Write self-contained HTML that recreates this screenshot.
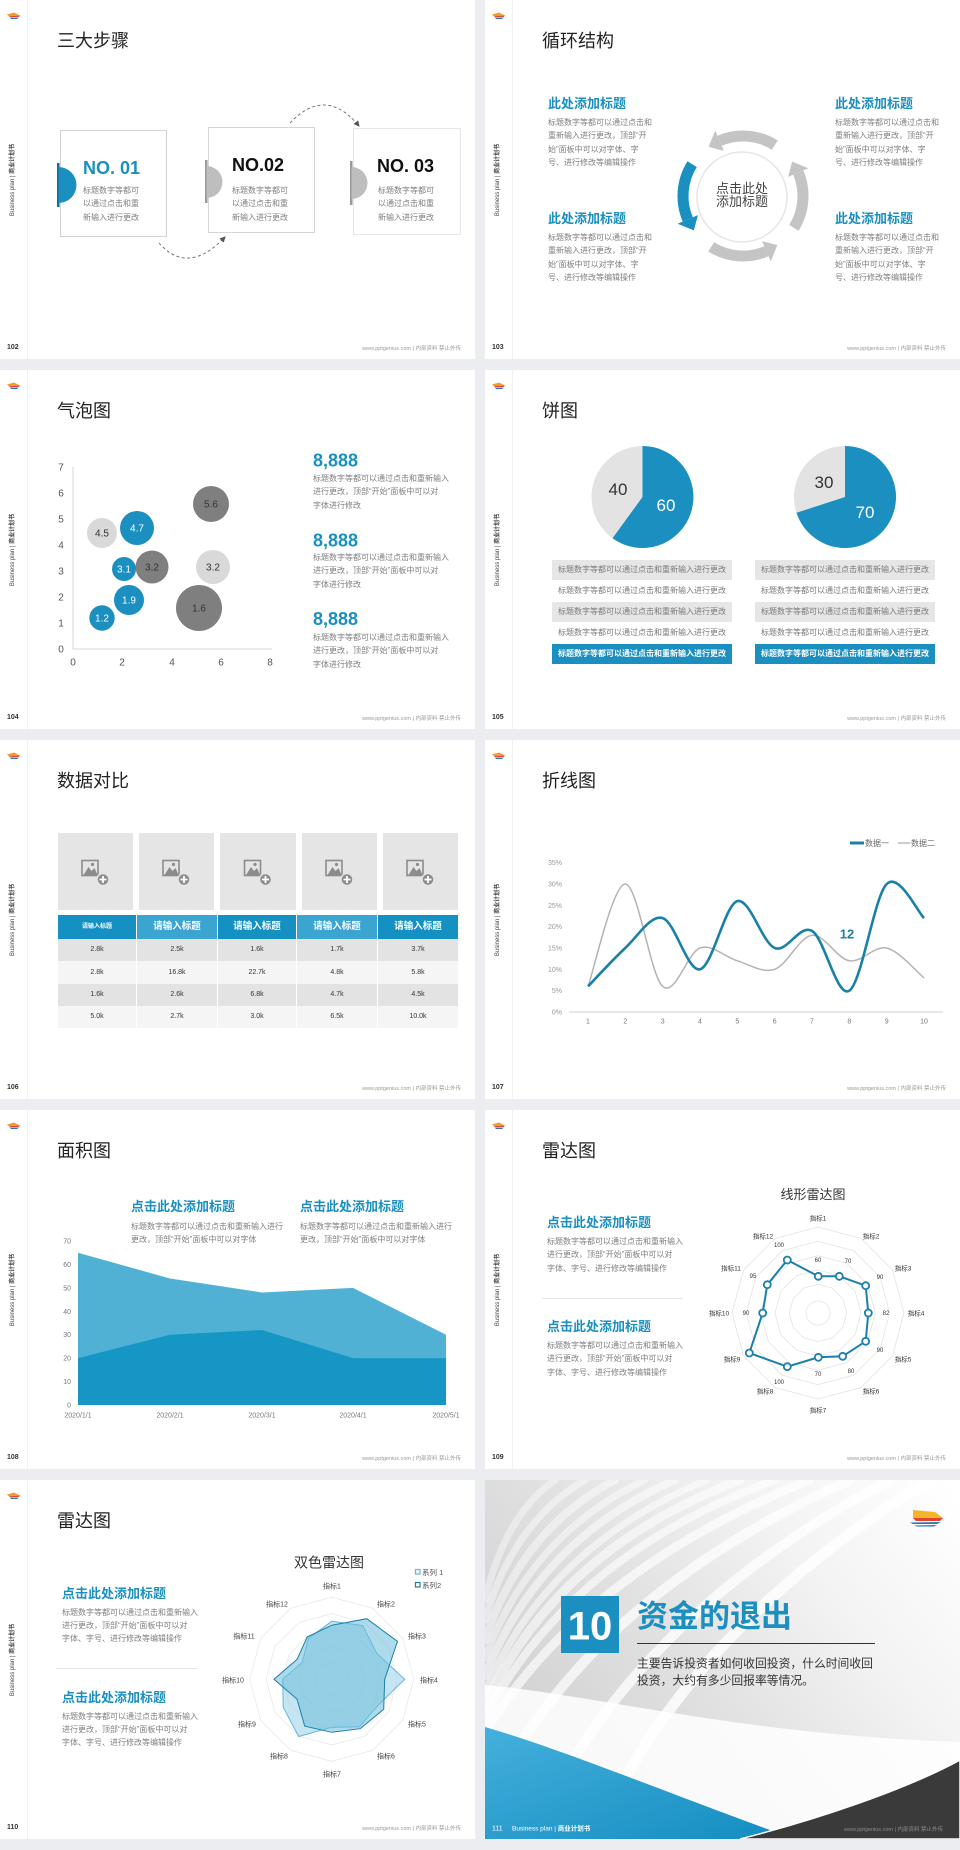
<!DOCTYPE html>
<html lang="zh"><head><meta charset="utf-8"><title>slides</title>
<style>
*{margin:0;padding:0;box-sizing:border-box}
html,body{width:960px;height:1850px}
body{background:#ebedf0;position:relative;overflow:hidden;font-family:"Liberation Sans","Noto Sans CJK SC",sans-serif;color:#333}
.s{position:absolute;width:475px;height:359px;background:#fff;overflow:hidden}
.sb{position:absolute;left:27px;top:0;width:1px;height:359px;background:#f0f0f0}
.t{position:absolute;white-space:nowrap}
.ti{position:absolute;left:57px;top:31.5px;font-size:18px;line-height:18px;color:#222;white-space:nowrap}
.sd{position:absolute;left:-32px;top:176px;width:90px;height:8px;font-size:6px;line-height:8px;text-align:center;transform:rotate(-90deg);color:#444;white-space:nowrap}
.pn{position:absolute;left:7px;top:344px;font-size:7px;line-height:8px;font-weight:bold;color:#333}
.ft{position:absolute;left:300px;top:345.5px;width:161px;text-align:right;font-size:5.5px;line-height:7px;color:#9a9a9a;white-space:nowrap}
.lg{position:absolute;left:7px;top:12px}
.b8{font-size:8px;color:#7f7f7f}
.h13{font-size:13px;line-height:14px;font-weight:bold;color:#1a8fc0}
.row{position:absolute;width:180px;height:20px;font-size:8px;line-height:20px;text-align:center;color:#7a7a7a;white-space:nowrap}
.hc{position:absolute;top:915px;height:24px;line-height:24px;text-align:center;color:#fff;font-weight:bold;font-size:9.5px;white-space:nowrap}
.dc{position:absolute;text-align:center;font-size:7px;color:#333;white-space:nowrap}
#main{position:absolute;left:0;top:0}
</style></head><body>

<!-- slide 102 -->
<div class="s" style="left:0;top:0"><div class="sb"></div>
<svg class="lg" width="14" height="8" viewBox="0 0 14 8"><path d="M0,2.5 L7,0.5 L13,3.5 L2,4.2Z" fill="#f39a2c"/><path d="M2,4.2 L13,3.5 L11.5,5 L3,5.2Z" fill="#e0452f"/><path d="M3,5.8 L12,5.6 L10,7 L4,7Z" fill="#2b76b9"/></svg>
<div class="ti">三大步骤</div><div class="sd">Business plan | <b>商业计划书</b></div><div class="pn">102</div><div class="ft">www.pptgenius.com | 内部资料 禁止外传</div></div>

<!-- slide 103 -->
<div class="s" style="left:485px;top:0"><div class="sb"></div>
<svg class="lg" width="14" height="8" viewBox="0 0 14 8"><path d="M0,2.5 L7,0.5 L13,3.5 L2,4.2Z" fill="#f39a2c"/><path d="M2,4.2 L13,3.5 L11.5,5 L3,5.2Z" fill="#e0452f"/><path d="M3,5.8 L12,5.6 L10,7 L4,7Z" fill="#2b76b9"/></svg>
<div class="ti">循环结构</div><div class="sd">Business plan | <b>商业计划书</b></div><div class="pn">103</div><div class="ft">www.pptgenius.com | 内部资料 禁止外传</div></div>

<!-- slide 104 -->
<div class="s" style="left:0;top:370px"><div class="sb"></div>
<svg class="lg" width="14" height="8" viewBox="0 0 14 8"><path d="M0,2.5 L7,0.5 L13,3.5 L2,4.2Z" fill="#f39a2c"/><path d="M2,4.2 L13,3.5 L11.5,5 L3,5.2Z" fill="#e0452f"/><path d="M3,5.8 L12,5.6 L10,7 L4,7Z" fill="#2b76b9"/></svg>
<div class="ti">气泡图</div><div class="sd">Business plan | <b>商业计划书</b></div><div class="pn">104</div><div class="ft">www.pptgenius.com | 内部资料 禁止外传</div></div>

<!-- slide 105 -->
<div class="s" style="left:485px;top:370px"><div class="sb"></div>
<svg class="lg" width="14" height="8" viewBox="0 0 14 8"><path d="M0,2.5 L7,0.5 L13,3.5 L2,4.2Z" fill="#f39a2c"/><path d="M2,4.2 L13,3.5 L11.5,5 L3,5.2Z" fill="#e0452f"/><path d="M3,5.8 L12,5.6 L10,7 L4,7Z" fill="#2b76b9"/></svg>
<div class="ti">饼图</div><div class="sd">Business plan | <b>商业计划书</b></div><div class="pn">105</div><div class="ft">www.pptgenius.com | 内部资料 禁止外传</div></div>

<!-- slide 106 -->
<div class="s" style="left:0;top:740px"><div class="sb"></div>
<svg class="lg" width="14" height="8" viewBox="0 0 14 8"><path d="M0,2.5 L7,0.5 L13,3.5 L2,4.2Z" fill="#f39a2c"/><path d="M2,4.2 L13,3.5 L11.5,5 L3,5.2Z" fill="#e0452f"/><path d="M3,5.8 L12,5.6 L10,7 L4,7Z" fill="#2b76b9"/></svg>
<div class="ti">数据对比</div><div class="sd">Business plan | <b>商业计划书</b></div><div class="pn">106</div><div class="ft">www.pptgenius.com | 内部资料 禁止外传</div></div>

<!-- slide 107 -->
<div class="s" style="left:485px;top:740px"><div class="sb"></div>
<svg class="lg" width="14" height="8" viewBox="0 0 14 8"><path d="M0,2.5 L7,0.5 L13,3.5 L2,4.2Z" fill="#f39a2c"/><path d="M2,4.2 L13,3.5 L11.5,5 L3,5.2Z" fill="#e0452f"/><path d="M3,5.8 L12,5.6 L10,7 L4,7Z" fill="#2b76b9"/></svg>
<div class="ti">折线图</div><div class="sd">Business plan | <b>商业计划书</b></div><div class="pn">107</div><div class="ft">www.pptgenius.com | 内部资料 禁止外传</div></div>

<!-- slide 108 -->
<div class="s" style="left:0;top:1110px"><div class="sb"></div>
<svg class="lg" width="14" height="8" viewBox="0 0 14 8"><path d="M0,2.5 L7,0.5 L13,3.5 L2,4.2Z" fill="#f39a2c"/><path d="M2,4.2 L13,3.5 L11.5,5 L3,5.2Z" fill="#e0452f"/><path d="M3,5.8 L12,5.6 L10,7 L4,7Z" fill="#2b76b9"/></svg>
<div class="ti">面积图</div><div class="sd">Business plan | <b>商业计划书</b></div><div class="pn">108</div><div class="ft">www.pptgenius.com | 内部资料 禁止外传</div></div>

<!-- slide 109 -->
<div class="s" style="left:485px;top:1110px"><div class="sb"></div>
<svg class="lg" width="14" height="8" viewBox="0 0 14 8"><path d="M0,2.5 L7,0.5 L13,3.5 L2,4.2Z" fill="#f39a2c"/><path d="M2,4.2 L13,3.5 L11.5,5 L3,5.2Z" fill="#e0452f"/><path d="M3,5.8 L12,5.6 L10,7 L4,7Z" fill="#2b76b9"/></svg>
<div class="ti">雷达图</div><div class="sd">Business plan | <b>商业计划书</b></div><div class="pn">109</div><div class="ft">www.pptgenius.com | 内部资料 禁止外传</div></div>

<!-- slide 110 -->
<div class="s" style="left:0;top:1480px"><div class="sb"></div>
<svg class="lg" width="14" height="8" viewBox="0 0 14 8"><path d="M0,2.5 L7,0.5 L13,3.5 L2,4.2Z" fill="#f39a2c"/><path d="M2,4.2 L13,3.5 L11.5,5 L3,5.2Z" fill="#e0452f"/><path d="M3,5.8 L12,5.6 L10,7 L4,7Z" fill="#2b76b9"/></svg>
<div class="ti">雷达图</div><div class="sd">Business plan | <b>商业计划书</b></div><div class="pn">110</div><div class="ft">www.pptgenius.com | 内部资料 禁止外传</div></div>

<!-- slide 111 base -->
<div class="s" style="left:485px;top:1480px"></div>

<!-- slide 106 table (HTML) -->
<div class="t" style="left:58px;top:833px;width:75px;height:77px;background:#e5e5e5"></div>
<div class="t" style="left:139px;top:833px;width:75px;height:77px;background:#e5e5e5"></div>
<div class="t" style="left:220px;top:833px;width:76px;height:77px;background:#e5e5e5"></div>
<div class="t" style="left:302px;top:833px;width:75px;height:77px;background:#e5e5e5"></div>
<div class="t" style="left:383px;top:833px;width:75px;height:77px;background:#e5e5e5"></div>

<div class="hc" style="left:58px;width:78px;background:#1590c3;font-size:6px">请输入标题</div>
<div class="hc" style="left:137px;width:80px;background:#3ba5d2">请输入标题</div>
<div class="hc" style="left:218px;width:78px;background:#1590c3">请输入标题</div>
<div class="hc" style="left:297px;width:80px;background:#3ba5d2">请输入标题</div>
<div class="hc" style="left:378px;width:80px;background:#1590c3">请输入标题</div>

<div class="dc" style="left:58px;top:939px;width:78px;height:22px;line-height:22px;background:#e3e3e3">2.8k</div>
<div class="dc" style="left:137px;top:939px;width:80px;height:22px;line-height:22px;background:#e3e3e3">2.5k</div>
<div class="dc" style="left:218px;top:939px;width:78px;height:22px;line-height:22px;background:#e3e3e3">1.6k</div>
<div class="dc" style="left:297px;top:939px;width:80px;height:22px;line-height:22px;background:#e3e3e3">1.7k</div>
<div class="dc" style="left:378px;top:939px;width:80px;height:22px;line-height:22px;background:#e3e3e3">3.7k</div>

<div class="dc" style="left:58px;top:961px;width:78px;height:23px;line-height:23px;background:#f5f5f5">2.8k</div>
<div class="dc" style="left:137px;top:961px;width:80px;height:23px;line-height:23px;background:#f5f5f5">16.8k</div>
<div class="dc" style="left:218px;top:961px;width:78px;height:23px;line-height:23px;background:#f5f5f5">22.7k</div>
<div class="dc" style="left:297px;top:961px;width:80px;height:23px;line-height:23px;background:#f5f5f5">4.8k</div>
<div class="dc" style="left:378px;top:961px;width:80px;height:23px;line-height:23px;background:#f5f5f5">5.8k</div>

<div class="dc" style="left:58px;top:984px;width:78px;height:22px;line-height:22px;background:#e3e3e3">1.6k</div>
<div class="dc" style="left:137px;top:984px;width:80px;height:22px;line-height:22px;background:#e3e3e3">2.6k</div>
<div class="dc" style="left:218px;top:984px;width:78px;height:22px;line-height:22px;background:#e3e3e3">6.8k</div>
<div class="dc" style="left:297px;top:984px;width:80px;height:22px;line-height:22px;background:#e3e3e3">4.7k</div>
<div class="dc" style="left:378px;top:984px;width:80px;height:22px;line-height:22px;background:#e3e3e3">4.5k</div>

<div class="dc" style="left:58px;top:1006px;width:78px;height:22px;line-height:22px;background:#f5f5f5">5.0k</div>
<div class="dc" style="left:137px;top:1006px;width:80px;height:22px;line-height:22px;background:#f5f5f5">2.7k</div>
<div class="dc" style="left:218px;top:1006px;width:78px;height:22px;line-height:22px;background:#f5f5f5">3.0k</div>
<div class="dc" style="left:297px;top:1006px;width:80px;height:22px;line-height:22px;background:#f5f5f5">6.5k</div>
<div class="dc" style="left:378px;top:1006px;width:80px;height:22px;line-height:22px;background:#f5f5f5">10.0k</div>

<!-- slide 105 rows -->
<div class="row" style="left:552px;top:560px;background:#e6e6e6">标题数字等都可以通过点击和重新输入进行更改</div>
<div class="row" style="left:552px;top:581px">标题数字等都可以通过点击和重新输入进行更改</div>
<div class="row" style="left:552px;top:602px;background:#e6e6e6">标题数字等都可以通过点击和重新输入进行更改</div>
<div class="row" style="left:552px;top:623px">标题数字等都可以通过点击和重新输入进行更改</div>
<div class="row" style="left:552px;top:644px;background:#1a8fc0;color:#fff;font-weight:bold">标题数字等都可以通过点击和重新输入进行更改</div>
<div class="row" style="left:755px;top:560px;background:#e6e6e6">标题数字等都可以通过点击和重新输入进行更改</div>
<div class="row" style="left:755px;top:581px">标题数字等都可以通过点击和重新输入进行更改</div>
<div class="row" style="left:755px;top:602px;background:#e6e6e6">标题数字等都可以通过点击和重新输入进行更改</div>
<div class="row" style="left:755px;top:623px">标题数字等都可以通过点击和重新输入进行更改</div>
<div class="row" style="left:755px;top:644px;background:#1a8fc0;color:#fff;font-weight:bold">标题数字等都可以通过点击和重新输入进行更改</div>

<svg id="main" width="960" height="1850" viewBox="0 0 960 1850" xmlns="http://www.w3.org/2000/svg" font-family="Liberation Sans, Noto Sans CJK SC, sans-serif">
<defs>
<marker id="ah" markerWidth="6" markerHeight="6" refX="5" refY="3" orient="auto" markerUnits="userSpaceOnUse"><path d="M0,0 L6,3 L0,6Z" fill="#555"/></marker>
<linearGradient id="bg10" x1="0" y1="0.65" x2="1" y2="0.05"><stop offset="0" stop-color="#d0d0d0"/><stop offset="0.35" stop-color="#e0e0e0"/><stop offset="0.68" stop-color="#f3f3f3"/><stop offset="1" stop-color="#ffffff"/></linearGradient>
<linearGradient id="bl10" x1="0" y1="0" x2="1" y2="1"><stop offset="0" stop-color="#45b0dc"/><stop offset="1" stop-color="#138cc0"/></linearGradient>
</defs>

<!-- ===== slide 102 ===== -->
<rect x="60.5" y="130.5" width="106" height="106" fill="#fff" stroke="#d2d2d2"/>
<rect x="208.5" y="127.5" width="106" height="105" fill="#fff" stroke="#d6d6d6"/>
<rect x="353.5" y="128.5" width="107" height="106" fill="#fff" stroke="#e6e6e6"/>
<rect x="57" y="163" width="2.5" height="44" fill="#0e6f96"/>
<path d="M58.5,167 A18,18 0 0 1 58.5,203 Z" fill="#1a8fc0"/>
<rect x="205" y="160" width="2.5" height="43" fill="#9a9a9a"/>
<path d="M206.5,166 A16,16 0 0 1 206.5,198 Z" fill="#bebebe"/>
<rect x="350" y="161" width="2.5" height="44" fill="#9a9a9a"/>
<path d="M351.5,167 A16,16 0 0 1 351.5,199Z" fill="#bebebe"/>
<text x="83" y="173.9" font-size="18" font-weight="bold" fill="#1a8fc0">NO. 01</text>
<text x="232" y="170.9" font-size="18" font-weight="bold" fill="#111">NO.02</text>
<text x="377" y="171.9" font-size="18" font-weight="bold" fill="#111">NO. 03</text>
<path d="M159,243 Q188,276 225,237" fill="none" stroke="#666" stroke-width="0.9" stroke-dasharray="3,2.5" marker-end="url(#ah)"/>
<path d="M290,123 Q325.5,85.5 359,126" fill="none" stroke="#666" stroke-width="0.9" stroke-dasharray="3,2.5" marker-end="url(#ah)"/>

<!-- ===== slide 103 ===== -->
<circle cx="742" cy="197" r="45" fill="#fff" stroke="#e6e6e6" stroke-width="1.5"/>
<g transform="translate(743,196) rotate(-58)"><path d="M60,0 A60,60 0 0 0 34.41,-49.15" fill="none" stroke="#c4c4c4" stroke-width="11"/><polygon points="28.11,-40.14 40.73,-58.16 23.44,-55.23" fill="#c4c4c4"/></g>
<g transform="translate(743,196) rotate(-148)"><path d="M60,0 A60,60 0 0 0 34.41,-49.15" fill="none" stroke="#1a8fc0" stroke-width="11"/><polygon points="28.11,-40.14 40.73,-58.16 23.44,-55.23" fill="#1a8fc0"/></g>
<g transform="translate(743,196) rotate(-238)"><path d="M60,0 A60,60 0 0 0 34.41,-49.15" fill="none" stroke="#c4c4c4" stroke-width="11"/><polygon points="28.11,-40.14 40.73,-58.16 23.44,-55.23" fill="#c4c4c4"/></g>
<g transform="translate(743,196) rotate(32)"><path d="M60,0 A60,60 0 0 0 34.41,-49.15" fill="none" stroke="#c4c4c4" stroke-width="11"/><polygon points="28.11,-40.14 40.73,-58.16 23.44,-55.23" fill="#c4c4c4"/></g>

<!-- ===== slide 104 bubble ===== -->
<line x1="73" y1="467" x2="73" y2="649" stroke="#c8d4dc"/>
<line x1="73" y1="649" x2="272" y2="649" stroke="#c8d4dc"/>
<g font-size="10" fill="#555" text-anchor="middle">
<text x="61" y="652.6">0</text><text x="61" y="626.6">1</text><text x="61" y="600.6">2</text><text x="61" y="574.6">3</text><text x="61" y="548.6">4</text><text x="61" y="522.6">5</text><text x="61" y="496.6">6</text><text x="61" y="470.6">7</text>
<text x="73" y="665.6">0</text><text x="122" y="665.6">2</text><text x="172" y="665.6">4</text><text x="221" y="665.6">6</text><text x="270" y="665.6">8</text>
</g>
<circle cx="102" cy="533" r="15" fill="#d9d9d9"/>
<circle cx="137" cy="528" r="17" fill="#1a8fc0"/>
<circle cx="211" cy="504" r="18" fill="#7f7f7f"/>
<circle cx="152" cy="567" r="16.5" fill="#7f7f7f"/>
<circle cx="124" cy="569" r="12" fill="#1a8fc0"/>
<circle cx="213" cy="567" r="17" fill="#d9d9d9"/>
<circle cx="129" cy="600" r="15" fill="#1a8fc0"/>
<circle cx="199" cy="608" r="23" fill="#7f7f7f"/>
<circle cx="102" cy="618" r="12.7" fill="#1a8fc0"/>
<g font-size="10" text-anchor="middle">
<text x="102" y="536.6" fill="#333">4.5</text>
<text x="137" y="531.6" fill="#fff">4.7</text>
<text x="211" y="507.6" fill="#333">5.6</text>
<text x="152" y="570.6" fill="#333">3.2</text>
<text x="124" y="572.6" fill="#fff">3.1</text>
<text x="213" y="570.6" fill="#333">3.2</text>
<text x="129" y="603.6" fill="#fff">1.9</text>
<text x="199" y="611.6" fill="#333">1.6</text>
<text x="102" y="621.6" fill="#fff">1.2</text>
</g>
<g font-size="18" font-weight="bold" fill="#1a8fc0">
<text x="313" y="466.4">8,888</text>
<text x="313" y="546.4">8,888</text>
<text x="313" y="624.9">8,888</text>
</g>

<!-- ===== slide 105 pies ===== -->
<circle cx="642.5" cy="497" r="51" fill="#e3e3e3"/>
<path d="M642.5,497 L642.5,446 A51,51 0 1 1 612.5,538.3 Z" fill="#1a8fc0"/>
<circle cx="845" cy="497" r="51" fill="#e3e3e3"/>
<path d="M845,497 L845,446 A51,51 0 1 1 796.5,512.8 Z" fill="#1a8fc0"/>
<g font-size="17" text-anchor="middle">
<text x="618" y="495.1" fill="#333">40</text>
<text x="666" y="511.1" fill="#fff">60</text>
<text x="824" y="488.1" fill="#333">30</text>
<text x="865" y="518.1" fill="#fff">70</text>
</g>

<!-- ===== slide 106 icons ===== -->
<g transform="translate(95.5,0)"><rect x="-13.5" y="860.5" width="16" height="15" fill="none" stroke="#8c8c8c" stroke-width="1.6"/><path d="M-12,875 L-7,867 L-4,871 L-1,868 L2,875 Z" fill="#8c8c8c"/><circle cx="-3" cy="864.5" r="1.6" fill="#8c8c8c"/><circle cx="7.5" cy="879.5" r="6" fill="#8c8c8c" stroke="#e5e5e5" stroke-width="1.5"/><path d="M7.5,876 V883 M4,879.5 H11" stroke="#fff" stroke-width="1.8"/></g>
<g transform="translate(176.5,0)"><rect x="-13.5" y="860.5" width="16" height="15" fill="none" stroke="#8c8c8c" stroke-width="1.6"/><path d="M-12,875 L-7,867 L-4,871 L-1,868 L2,875 Z" fill="#8c8c8c"/><circle cx="-3" cy="864.5" r="1.6" fill="#8c8c8c"/><circle cx="7.5" cy="879.5" r="6" fill="#8c8c8c" stroke="#e5e5e5" stroke-width="1.5"/><path d="M7.5,876 V883 M4,879.5 H11" stroke="#fff" stroke-width="1.8"/></g>
<g transform="translate(258,0)"><rect x="-13.5" y="860.5" width="16" height="15" fill="none" stroke="#8c8c8c" stroke-width="1.6"/><path d="M-12,875 L-7,867 L-4,871 L-1,868 L2,875 Z" fill="#8c8c8c"/><circle cx="-3" cy="864.5" r="1.6" fill="#8c8c8c"/><circle cx="7.5" cy="879.5" r="6" fill="#8c8c8c" stroke="#e5e5e5" stroke-width="1.5"/><path d="M7.5,876 V883 M4,879.5 H11" stroke="#fff" stroke-width="1.8"/></g>
<g transform="translate(339.5,0)"><rect x="-13.5" y="860.5" width="16" height="15" fill="none" stroke="#8c8c8c" stroke-width="1.6"/><path d="M-12,875 L-7,867 L-4,871 L-1,868 L2,875 Z" fill="#8c8c8c"/><circle cx="-3" cy="864.5" r="1.6" fill="#8c8c8c"/><circle cx="7.5" cy="879.5" r="6" fill="#8c8c8c" stroke="#e5e5e5" stroke-width="1.5"/><path d="M7.5,876 V883 M4,879.5 H11" stroke="#fff" stroke-width="1.8"/></g>
<g transform="translate(420.5,0)"><rect x="-13.5" y="860.5" width="16" height="15" fill="none" stroke="#8c8c8c" stroke-width="1.6"/><path d="M-12,875 L-7,867 L-4,871 L-1,868 L2,875 Z" fill="#8c8c8c"/><circle cx="-3" cy="864.5" r="1.6" fill="#8c8c8c"/><circle cx="7.5" cy="879.5" r="6" fill="#8c8c8c" stroke="#e5e5e5" stroke-width="1.5"/><path d="M7.5,876 V883 M4,879.5 H11" stroke="#fff" stroke-width="1.8"/></g>

<!-- ===== slide 107 line chart ===== -->
<g font-size="7" fill="#999" text-anchor="end">
<text x="562" y="1014.5">0%</text><text x="562" y="993.2">5%</text><text x="562" y="971.8">10%</text><text x="562" y="950.5">15%</text><text x="562" y="929.2">20%</text><text x="562" y="907.8">25%</text><text x="562" y="886.5">30%</text><text x="562" y="865.2">35%</text>
</g>
<line x1="569" y1="1012" x2="943" y2="1012" stroke="#d0d0d0"/>
<g font-size="7" fill="#777" text-anchor="middle">
<text x="588" y="1023.5">1</text><text x="625.3" y="1023.5">2</text><text x="662.7" y="1023.5">3</text><text x="700" y="1023.5">4</text><text x="737.3" y="1023.5">5</text><text x="774.7" y="1023.5">6</text><text x="812" y="1023.5">7</text><text x="849.3" y="1023.5">8</text><text x="886.7" y="1023.5">9</text><text x="924" y="1023.5">10</text>
</g>
<path d="M588,986.4 C594.2,969.3 612.9,884 625.3,884 C637.7,884 650.3,975.7 662.7,986.4 C675.1,997.1 687.6,952.3 700,948 C712.4,943.7 724.9,957.3 737.3,960.8 C749.7,964.4 762.3,973.6 774.7,969.3 C787.1,965 799.6,936.6 812,935.2 C824.4,933.8 836.9,958.7 849.3,960.8 C861.7,962.9 874.3,945.2 886.7,948 C899.1,950.9 917.8,972.9 924,977.9" fill="none" stroke="#b3b3b3" stroke-width="1.5"/>
<path d="M588,986.4 C594.2,980 612.9,959.4 625.3,948 C637.7,936.6 650.3,914.6 662.7,918.1 C675.1,921.7 687.6,972.1 700,969.3 C712.4,966.5 724.9,904.7 737.3,901.1 C749.7,897.6 762.3,943 774.7,948 C787.1,953 799.6,923.8 812,930.9 C824.4,938 836.9,998.5 849.3,990.7 C861.7,982.9 874.3,896.1 886.7,884 C899.1,871.9 917.8,912.4 924,918.1" fill="none" stroke="#1a80a8" stroke-width="2.6"/>
<text x="847" y="938.7" font-size="13" font-weight="bold" fill="#1a80a8" text-anchor="middle">12</text>
<line x1="850" y1="843" x2="864" y2="843" stroke="#1a80a8" stroke-width="3"/>
<text x="865" y="846" font-size="8" fill="#666">数据一</text>
<line x1="898" y1="843" x2="910" y2="843" stroke="#aaa" stroke-width="1.2"/>
<text x="911" y="846" font-size="8" fill="#666">数据二</text>

<!-- ===== slide 108 area ===== -->
<polygon points="78,1252.7 170,1278.5 262,1292.5 353,1287.9 446,1334.7 446,1405 78,1405" fill="#50b1d5"/>
<polygon points="78,1358.1 170,1334.7 262,1330 353,1358.1 446,1358.1 446,1405 78,1405" fill="#1696c4"/>
<g font-size="7" fill="#777" text-anchor="end">
<text x="71" y="1407.5">0</text><text x="71" y="1384.1">10</text><text x="71" y="1360.6">20</text><text x="71" y="1337.2">30</text><text x="71" y="1313.8">40</text><text x="71" y="1290.4">50</text><text x="71" y="1266.9">60</text><text x="71" y="1243.5">70</text>
</g>
<g font-size="7" fill="#777" text-anchor="middle">
<text x="78" y="1417.5">2020/1/1</text><text x="170" y="1417.5">2020/2/1</text><text x="262" y="1417.5">2020/3/1</text><text x="353" y="1417.5">2020/4/1</text><text x="446" y="1417.5">2020/5/1</text>
</g>

<!-- ===== slide 109 radar ===== -->
<line x1="542" y1="1298.5" x2="683" y2="1298.5" stroke="#e6e6e6"/>
<text x="813" y="1198.9" font-size="13" fill="#333" text-anchor="middle">线形雷达图</text>
<g fill="none" stroke="#e3e3e3" stroke-width="0.8">
<polygon points="0,-1 0.5,-0.866 0.866,-0.5 1,0 0.866,0.5 0.5,0.866 0,1 -0.5,0.866 -0.866,0.5 -1,0 -0.866,-0.5 -0.5,-0.866" transform="translate(818,1313) scale(86)" vector-effect="non-scaling-stroke"/>
<polygon points="0,-1 0.5,-0.866 0.866,-0.5 1,0 0.866,0.5 0.5,0.866 0,1 -0.5,0.866 -0.866,0.5 -1,0 -0.866,-0.5 -0.5,-0.866" transform="translate(818,1313) scale(71.7)" vector-effect="non-scaling-stroke"/>
<polygon points="0,-1 0.5,-0.866 0.866,-0.5 1,0 0.866,0.5 0.5,0.866 0,1 -0.5,0.866 -0.866,0.5 -1,0 -0.866,-0.5 -0.5,-0.866" transform="translate(818,1313) scale(57.3)" vector-effect="non-scaling-stroke"/>
<polygon points="0,-1 0.5,-0.866 0.866,-0.5 1,0 0.866,0.5 0.5,0.866 0,1 -0.5,0.866 -0.866,0.5 -1,0 -0.866,-0.5 -0.5,-0.866" transform="translate(818,1313) scale(43)" vector-effect="non-scaling-stroke"/>
<polygon points="0,-1 0.5,-0.866 0.866,-0.5 1,0 0.866,0.5 0.5,0.866 0,1 -0.5,0.866 -0.866,0.5 -1,0 -0.866,-0.5 -0.5,-0.866" transform="translate(818,1313) scale(28.7)" vector-effect="non-scaling-stroke"/>
<circle cx="818" cy="1313" r="12"/>
</g>
<polygon points="818.3,1276.3 839.3,1276.3 865.7,1285.7 868.3,1313 865.7,1341.3 842.7,1356.3 818.3,1357.3 787.3,1366.7 749.3,1353 762.7,1313 767.3,1284.7 787.3,1260" fill="none" stroke="#1a80aa" stroke-width="2"/>
<g fill="#fff" stroke="#1a80aa" stroke-width="1.8">
<circle cx="818.3" cy="1276.3" r="3.5"/><circle cx="839.3" cy="1276.3" r="3.5"/><circle cx="865.7" cy="1285.7" r="3.5"/><circle cx="868.3" cy="1313" r="3.5"/><circle cx="865.7" cy="1341.3" r="3.5"/><circle cx="842.7" cy="1356.3" r="3.5"/><circle cx="818.3" cy="1357.3" r="3.5"/><circle cx="787.3" cy="1366.7" r="3.5"/><circle cx="749.3" cy="1353" r="3.5"/><circle cx="762.7" cy="1313" r="3.5"/><circle cx="767.3" cy="1284.7" r="3.5"/><circle cx="787.3" cy="1260" r="3.5"/>
</g>
<g font-size="6" fill="#333" text-anchor="middle">
<text x="818" y="1262.1">60</text><text x="848" y="1263.1">70</text><text x="880" y="1279.1">90</text><text x="886" y="1315.1">82</text><text x="880" y="1352.1">90</text><text x="851" y="1373.1">80</text><text x="818" y="1376.1">70</text><text x="779" y="1384.1">100</text><text x="746" y="1315.1">90</text><text x="753" y="1278.1">95</text><text x="779" y="1247.1">100</text>
</g>
<g font-size="6.5" fill="#333" text-anchor="middle">
<text x="818" y="1220.5">指标1</text><text x="871" y="1238.5">指标2</text><text x="903" y="1270.5">指标3</text><text x="916" y="1315.5">指标4</text><text x="903" y="1361.5">指标5</text><text x="871" y="1393.5">指标6</text><text x="818" y="1412.5">指标7</text><text x="765" y="1393.5">指标8</text><text x="732" y="1361.5">指标9</text><text x="719" y="1315.5">指标10</text><text x="731" y="1270.5">指标11</text><text x="763" y="1238.5">指标12</text>
</g>

<!-- ===== slide 110 dual radar ===== -->
<line x1="56" y1="1668.5" x2="198" y2="1668.5" stroke="#e6e6e6"/>
<text x="329" y="1567.3" font-size="14" fill="#333" text-anchor="middle">双色雷达图</text>
<rect x="415.5" y="1569.5" width="4.5" height="4.5" fill="#fff" stroke="#5fb9dc" stroke-width="1.2"/>
<text x="422" y="1574.8" font-size="7.5" fill="#555">系列 1</text>
<rect x="415.5" y="1582.5" width="4.5" height="4.5" fill="#fff" stroke="#1d7fa8" stroke-width="1.2"/>
<text x="422" y="1587.8" font-size="7.5" fill="#555">系列2</text>
<g fill="none" stroke="#e8e8e8" stroke-width="0.8">
<polygon points="0,-1 0.5,-0.866 0.866,-0.5 1,0 0.866,0.5 0.5,0.866 0,1 -0.5,0.866 -0.866,0.5 -1,0 -0.866,-0.5 -0.5,-0.866" transform="translate(331.7,1679.3) scale(82)" vector-effect="non-scaling-stroke"/>
<polygon points="0,-1 0.5,-0.866 0.866,-0.5 1,0 0.866,0.5 0.5,0.866 0,1 -0.5,0.866 -0.866,0.5 -1,0 -0.866,-0.5 -0.5,-0.866" transform="translate(331.7,1679.3) scale(65.6)" vector-effect="non-scaling-stroke"/>
<polygon points="0,-1 0.5,-0.866 0.866,-0.5 1,0 0.866,0.5 0.5,0.866 0,1 -0.5,0.866 -0.866,0.5 -1,0 -0.866,-0.5 -0.5,-0.866" transform="translate(331.7,1679.3) scale(49.2)" vector-effect="non-scaling-stroke"/>
<polygon points="0,-1 0.5,-0.866 0.866,-0.5 1,0 0.866,0.5 0.5,0.866 0,1 -0.5,0.866 -0.866,0.5 -1,0 -0.866,-0.5 -0.5,-0.866" transform="translate(331.7,1679.3) scale(32.8)" vector-effect="non-scaling-stroke"/>
<polygon points="0,-1 0.5,-0.866 0.866,-0.5 1,0 0.866,0.5 0.5,0.866 0,1 -0.5,0.866 -0.866,0.5 -1,0 -0.866,-0.5 -0.5,-0.866" transform="translate(331.7,1679.3) scale(16.4)" vector-effect="non-scaling-stroke"/>
</g>
<polygon points="331.7,1621.3 362.7,1625.6 376.7,1653.3 404.7,1679.3 377.6,1705.8 359.2,1726.9 331.7,1727.3 298.7,1736.5 283.2,1707.3 282.7,1679.3 302.3,1662.3 308.2,1638.6" fill="#9fd4e9" fill-opacity="0.6" stroke="#5fb9dc" stroke-width="1"/>
<polygon points="331.7,1625.3 366.7,1618.7 397.5,1641.3 384.7,1679.3 383.7,1709.3 360.2,1728.7 331.7,1732.3 304.7,1726.1 297.1,1699.3 274,1679.3 297.1,1659.3 307.2,1636.9" fill="#6cbddd" fill-opacity="0.55" stroke="#1d7fa8" stroke-width="1"/>
<g font-size="7" fill="#444" text-anchor="middle">
<text x="332" y="1588.7">指标1</text><text x="386" y="1606.7">指标2</text><text x="417" y="1638.7">指标3</text><text x="429" y="1682.7">指标4</text><text x="417" y="1726.7">指标5</text><text x="386" y="1758.7">指标6</text><text x="332" y="1776.7">指标7</text><text x="279" y="1758.7">指标8</text><text x="247" y="1726.7">指标9</text><text x="233" y="1682.7">指标10</text><text x="244" y="1638.7">指标11</text><text x="277" y="1606.7">指标12</text>
</g>

<!-- ===== slide 111 section ===== -->
<svg x="485" y="1480" width="475" height="359" viewBox="0 0 475 359">
<rect x="0" y="0" width="475" height="359" fill="url(#bg10)"/>
<g fill="none" stroke="#ffffff" stroke-linecap="round">
<path d="M70,0 Q20,35 0,120" stroke-width="7" stroke-opacity="0.4"/>
<path d="M100,0 Q28,42 0,140" stroke-width="7" stroke-opacity="0.45"/>
<path d="M130,0 Q36,50 0,160" stroke-width="8" stroke-opacity="0.45"/>
<path d="M160,0 Q45,55 0,178" stroke-width="7" stroke-opacity="0.45"/>
<path d="M190,0 Q53,60 0,196" stroke-width="8" stroke-opacity="0.5"/>
<path d="M222,0 Q62,66 0,212" stroke-width="7" stroke-opacity="0.5"/>
<path d="M255,0 Q71,70 0,226" stroke-width="9" stroke-opacity="0.55"/>
<path d="M290,0 Q85,75 0,238" stroke-width="8" stroke-opacity="0.6"/>
<path d="M325,0 Q100,90 0,252" stroke-width="9" stroke-opacity="0.65"/>
<path d="M365,0 Q120,110 20,290" stroke-width="10" stroke-opacity="0.7"/>
<path d="M405,0 Q160,130 60,330" stroke-width="10" stroke-opacity="0.75"/>
<path d="M445,0 Q200,150 110,359" stroke-width="11" stroke-opacity="0.8"/>
</g>
<path d="M0,205 C110,215 260,255 475,262 L475,359 L0,359Z" fill="#ffffff" fill-opacity="0.85"/>
<path d="M0,247 C80,270 200,320 310,359 L0,359Z" fill="url(#bl10)"/>
<path d="M255,359 C330,340 420,310 475,280 L475,359 Z" fill="#3a3a3a" stroke="#fff" stroke-width="1.5"/>
<path d="M428,30 L450,32 L458,38 L428,38Z" fill="#f6b427"/>
<path d="M428,38 L458,38 L455,41 L431,41Z" fill="#e0452f"/>
<path d="M425,42.5 L456,42 L452,44 L428,44Z" fill="#2b76b9"/>
<path d="M429,45.5 L452,45 L449,46.5 L432,46.5Z" fill="#2b76b9"/>
</svg>
<rect x="561" y="1596" width="58" height="57" fill="#1a8fc0"/>
<text x="590" y="1639.3" font-size="40" font-weight="bold" fill="#fff" text-anchor="middle">10</text>
<text x="637" y="1626.8" font-size="31" font-weight="bold" fill="#1a8fc0">资金的退出</text>
<line x1="637" y1="1643.5" x2="875" y2="1643.5" stroke="#333" stroke-width="1"/>
<text x="637" y="1667.6" font-size="11.8" fill="#333">主要告诉投资者如何收回投资，什么时间收回</text>
<text x="637" y="1684.6" font-size="11.8" fill="#333">投资，大约有多少回报率等情况。</text>
<text x="492" y="1830.5" font-size="7" fill="#fff">111</text>
<text x="512" y="1830.5" font-size="6.5" fill="#fff">Business plan | <tspan font-weight="bold">商业计划书</tspan></text>
<text x="943" y="1831" font-size="5.5" fill="#8a8a8a" text-anchor="end">www.pptgenius.com | 内部资料 禁止外传</text>
</svg>

<!-- ===== HTML paragraph text ===== -->
<!-- slide 102 -->
<div class="t b8" style="left:83px;top:184px;line-height:13.3px">标题数字等都可<br>以通过点击和重<br>新输入进行更改</div>
<div class="t b8" style="left:232px;top:184px;line-height:13.3px">标题数字等都可<br>以通过点击和重<br>新输入进行更改</div>
<div class="t b8" style="left:378px;top:184px;line-height:13.3px">标题数字等都可<br>以通过点击和重<br>新输入进行更改</div>

<!-- slide 103 -->
<div class="t h13" style="left:548px;top:96.5px">此处添加标题</div>
<div class="t b8" style="left:548px;top:115.8px;line-height:13.5px">标题数字等都可以通过点击和<br>重新输入进行更改，顶部“开<br>始”面板中可以对字体、字<br>号、进行修改等编辑操作</div>
<div class="t h13" style="left:835px;top:96.5px">此处添加标题</div>
<div class="t b8" style="left:835px;top:115.8px;line-height:13.5px">标题数字等都可以通过点击和<br>重新输入进行更改，顶部“开<br>始”面板中可以对字体、字<br>号、进行修改等编辑操作</div>
<div class="t h13" style="left:548px;top:212px">此处添加标题</div>
<div class="t b8" style="left:548px;top:230.8px;line-height:13.5px">标题数字等都可以通过点击和<br>重新输入进行更改，顶部“开<br>始”面板中可以对字体、字<br>号、进行修改等编辑操作</div>
<div class="t h13" style="left:835px;top:212px">此处添加标题</div>
<div class="t b8" style="left:835px;top:230.8px;line-height:13.5px">标题数字等都可以通过点击和<br>重新输入进行更改，顶部“开<br>始”面板中可以对字体、字<br>号、进行修改等编辑操作</div>
<div class="t" style="left:707px;top:183px;width:70px;text-align:center;font-size:13px;line-height:12.6px;color:#444">点击此处<br>添加标题</div>

<!-- slide 104 -->
<div class="t b8" style="left:313px;top:471.6px;line-height:13.8px">标题数字等都可以通过点击和重新输入<br>进行更改，顶部“开始”面板中可以对<br>字体进行修改</div>
<div class="t b8" style="left:313px;top:550.6px;line-height:13.8px">标题数字等都可以通过点击和重新输入<br>进行更改，顶部“开始”面板中可以对<br>字体进行修改</div>
<div class="t b8" style="left:313px;top:630.6px;line-height:13.8px">标题数字等都可以通过点击和重新输入<br>进行更改，顶部“开始”面板中可以对<br>字体进行修改</div>

<!-- slide 108 -->
<div class="t h13" style="left:131px;top:1200px">点击此处添加标题</div>
<div class="t b8" style="left:131px;top:1219.9px;line-height:13.3px">标题数字等都可以通过点击和重新输入进行<br>更改，顶部“开始”面板中可以对字体</div>
<div class="t h13" style="left:300px;top:1200px">点击此处添加标题</div>
<div class="t b8" style="left:300px;top:1219.9px;line-height:13.3px">标题数字等都可以通过点击和重新输入进行<br>更改，顶部“开始”面板中可以对字体</div>

<!-- slide 109 -->
<div class="t h13" style="left:547px;top:1216px">点击此处添加标题</div>
<div class="t b8" style="left:547px;top:1234.6px;line-height:13.8px">标题数字等都可以通过点击和重新输入<br>进行更改，顶部“开始”面板中可以对<br>字体、字号、进行修改等编辑操作</div>
<div class="t h13" style="left:547px;top:1320px">点击此处添加标题</div>
<div class="t b8" style="left:547px;top:1338.6px;line-height:13.8px">标题数字等都可以通过点击和重新输入<br>进行更改，顶部“开始”面板中可以对<br>字体、字号、进行修改等编辑操作</div>

<!-- slide 110 -->
<div class="t h13" style="left:62px;top:1586.5px">点击此处添加标题</div>
<div class="t b8" style="left:62px;top:1605.6px;line-height:13.3px">标题数字等都可以通过点击和重新输入<br>进行更改，顶部“开始”面板中可以对<br>字体、字号、进行修改等编辑操作</div>
<div class="t h13" style="left:62px;top:1690.5px">点击此处添加标题</div>
<div class="t b8" style="left:62px;top:1709.6px;line-height:13.3px">标题数字等都可以通过点击和重新输入<br>进行更改，顶部“开始”面板中可以对<br>字体、字号、进行修改等编辑操作</div>

</body></html>
